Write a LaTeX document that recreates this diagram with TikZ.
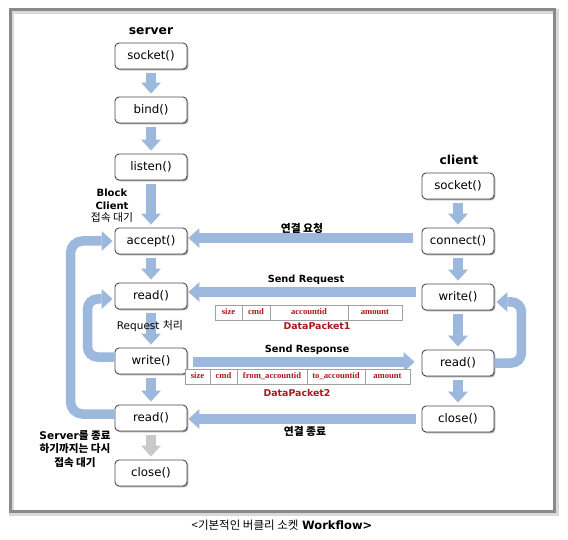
\documentclass[tikz,border=0pt]{standalone}
\usepackage{fontspec}
\setmainfont{DejaVu Sans}
\newfontfamily\kr{Noto Sans CJK KR}
\newfontfamily\tbl{Liberation Serif}
\usetikzlibrary{arrows.meta,calc,shadows}
\definecolor{arrowblue}{HTML}{9CB8DC}
\definecolor{arrowgray}{HTML}{C9C9C9}
\definecolor{boxline}{HTML}{4A4A4A}
\definecolor{pktred}{HTML}{A8181E}
\definecolor{pktline}{HTML}{A0A0A0}
\definecolor{frameg}{HTML}{8A8A8A}
\begin{document}
\begin{tikzpicture}[x=1pt,y=-1pt,
  fn/.style={draw=boxline, line width=0.9pt, rounded corners=4pt, fill=white,
    minimum width=72pt, minimum height=26pt, inner sep=0pt,
    font=\fontsize{11.8}{13}\selectfont,
    drop shadow={shadow xshift=1.3pt, shadow yshift=-1.3pt, opacity=0.35, fill=black}},
  fat/.style={line width=9.5pt, draw=arrowblue, -{Triangle[length=11pt,width=20pt,line width=0pt]}},
  vfat/.style={fat, shorten <=3.5pt, shorten >=3pt},
  head/.style={font=\bfseries\fontsize{12.3}{14}\selectfont},
  lbl/.style={font=\fontsize{10}{12.5}\selectfont, align=center, inner sep=0pt},
  blbl/.style={font=\bfseries\fontsize{9.8}{12}\selectfont, inner sep=0pt},
  cell/.style={draw=pktline, line width=0.6pt, fill=white, inner sep=0pt, text=pktred,
    text height=6pt, text depth=1.5pt,
    font=\tbl\bfseries\fontsize{8.6}{9}\selectfont},
  pkt/.style={text=pktred, font=\bfseries\fontsize{9.4}{10}\selectfont, inner sep=0pt}]
\useasboundingbox (0,0) rectangle (568,540);
% frame
\draw[gray!30, line width=5pt] (11,12) rectangle (556,513);
\draw[frameg, line width=3pt] (10,10) rectangle (554,511);

% server column
\node[head] (srv) at (151,31) {server};
\node[fn] (sock) at (151,56) {socket()};
\node[fn] (bind) at (151,110) {bind()};
\node[fn] (lis) at (151,167) {listen()};
\node[fn] (acc) at (151,241) {accept()};
\node[fn] (rd1) at (151,296) {read()};
\node[fn] (wr1) at (151,361) {write()};
\node[fn] (rd2) at (151,418) {read()};
\node[fn] (cls) at (151,473) {close()};

% client column
\node[head] (cli) at (459,160) {client};
\node[fn] (csock) at (458,186) {socket()};
\node[fn] (conn) at (458,241) {connect()};
\node[fn] (cwr) at (458,297) {write()};
\node[fn] (crd) at (458,363) {read()};
\node[fn] (ccls) at (458,419) {close()};

% vertical arrows
\draw[vfat] (sock) -- (bind);
\draw[vfat] (bind) -- (lis);
\draw[vfat] (lis) -- (acc);
\draw[vfat] (acc) -- (rd1);
\draw[vfat] (rd1) -- (wr1);
\draw[vfat] (wr1) -- (rd2);
\draw[vfat, draw=arrowgray] (rd2) -- (cls);
\draw[vfat] (csock) -- (conn);
\draw[vfat] (conn) -- (cwr);
\draw[vfat] (cwr) -- (crd);
\draw[vfat] (crd) -- (ccls);

% horizontal arrows
\draw[fat, shorten <=9pt, shorten >=1pt] ($(conn.west)+(0,-3)$) -- ($(acc.east)+(0,-3)$);
\draw[fat, shorten <=6pt, shorten >=1pt] ($(cwr.west)+(0,-5)$) -- ($(cwr.west -| rd1.east)+(0,-5)$);
\draw[fat, shorten <=6pt, shorten >=7pt] ($(wr1.east)+(0,1)$) -- ($(wr1.east -| crd.west)+(0,1)$);
\draw[fat, shorten <=6pt, shorten >=1pt] (ccls.west) -- (ccls.west -| rd2.east);

% loops
\draw[fat, rounded corners=12pt, shorten >=2pt] ($(rd2.west)+(0,-4)$) -- ++(-44,0) |- (acc.west);
\draw[fat, rounded corners=10pt, shorten >=2pt] ($(wr1.west)+(0,-4)$) -- ++(-27,0) |- ($(rd1.west)+(0,3)$);
\draw[fat, rounded corners=10pt, shorten >=2pt] (crd.east) -- ++(27,0) |- ($(cwr.east)+(0,5)$);

% labels
\node[lbl] (blk) at (112,206) {\textbf{Block}\\\textbf{Client}\\{\kr\fontsize{10.8}{12.5}\selectfont 접속 대기}};
\node[lbl] (req) at (150,326) {\fontsize{10.5}{12.5}\selectfont Request {\kr\fontsize{11}{12.5}\selectfont 처리}};
\node[lbl, font=\bfseries\fontsize{10.6}{13.5}\selectfont] (again) at (75,449)
  {Server{\kr\bfseries 를 종료}\\{\kr\bfseries 하기까지는 다시}\\{\kr\bfseries 접속 대기}};
\node[lbl, font=\kr\bfseries\fontsize{10.8}{12}\selectfont] (lreq) at (302,228) {연결 요청};
\node[lbl, font=\kr\bfseries\fontsize{10.8}{12}\selectfont] (lend) at (305,431) {연결 종료};
\node[blbl] (sreq) at (306,280) {Send Request};
\node[blbl] (sres) at (307,350) {Send Response};

% DataPacket1
\node[cell, minimum width=27pt, minimum height=15pt] (p1a) at (228.5,312.5) {size};
\node[cell, minimum width=28pt, minimum height=15pt] (p1b) at (256,312.5) {cmd};
\node[cell, minimum width=78pt, minimum height=15pt] (p1c) at (309,312.5) {accountid};
\node[cell, minimum width=54pt, minimum height=15pt] (p1d) at (375,312.5) {amount};
\node[pkt] (dp1) at (317,326) {DataPacket1};

% DataPacket2
\node[cell, minimum width=25pt, minimum height=15pt] (p2a) at (197.5,376.5) {size};
\node[cell, minimum width=27pt, minimum height=15pt] (p2b) at (223.5,376.5) {cmd};
\node[cell, minimum width=70pt, minimum height=15pt] (p2c) at (272,376.5) {from\_accountid};
\node[cell, minimum width=58pt, minimum height=15pt] (p2d) at (336,376.5) {to\_accountid};
\node[cell, minimum width=45pt, minimum height=15pt] (p2e) at (387.5,376.5) {amount};
\node[pkt] (dp2) at (297,393) {DataPacket2};

% caption
\node[inner sep=0pt, font=\fontsize{11.5}{13}\selectfont] (cap) at (282,525) {{\kr <기본적인 버클리 소켓} \textbf{Workflow>}};
\end{tikzpicture}
\end{document}
